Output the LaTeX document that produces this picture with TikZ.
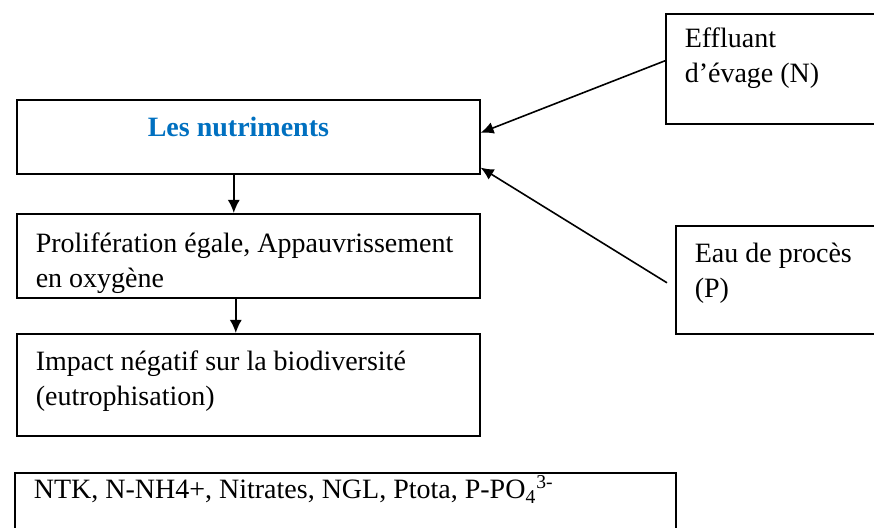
\documentclass[tikz,border=0pt]{standalone}
\usepackage{fontspec}
\setmainfont{Liberation Serif}
\usepackage{tikz}
\usetikzlibrary{arrows.meta}
\definecolor{titreblue}{RGB}{0,112,192}
\tikzset{
	boite/.style={draw, line width=0.8pt, anchor=north west, inner ysep=0pt, inner xsep=9.5pt, align=flush left, font=\fontsize{14}{17.5}\selectfont},
	fleche/.style={->, >={Latex[length=6.5pt,width=6pt]}, line width=0.8pt}
}

\begin{document}
\begin{tikzpicture}[x=0.5pt,y=-0.5pt]
	\path[use as bounding box, clip] (0,0) rectangle (874,528);
	\node[boite, inner xsep=65.5pt, text width=100.5pt, text height=18.5pt, text depth=18.5pt] (nutr) at (16,99) {\textbf{\color{titreblue}Les nutriments}};
	\node[boite, text width=212.5pt, text height=19.5pt, text depth=22.5pt] (prolif) at (16,213) {Prolifération égale, Appauvrissement\\en oxygène};
	\node[boite, text width=212.5pt, text height=18.5pt, text depth=32.5pt] (impact) at (16,333) {Impact négatif sur la biodiversité\\(eutrophisation)};
	\node[boite, text width=311.5pt, text height=13pt, text depth=21pt] (ntk) at (14,472) {NTK, N-NH4+, Nitrates, NGL, Ptota, P-PO\textsubscript{4}\textsuperscript{3-}};
	\node[boite, text width=98.5pt, text height=17pt, text depth=38pt] (effl) at (665,13) {Effluant\\d’évage (N)};
	\node[boite, text width=93.5pt, text height=18.5pt, text depth=35.5pt] (eau) at (675,225) {Eau de procès\\(P)};
	\draw[fleche] ([xshift=-7.25pt]nutr.south) -- ([xshift=-7.25pt]prolif.north);
	\draw[fleche] ([xshift=-6.25pt]prolif.south) -- ([xshift=-6.25pt]impact.north);
	\draw[fleche] ([yshift=4pt]effl.west) -- ([yshift=2pt]nutr.east);
	\draw[fleche] ([xshift=-4pt,yshift=-1.5pt]eau.west) -- ([yshift=3.5pt]nutr.south east);
\end{tikzpicture}
\end{document}
